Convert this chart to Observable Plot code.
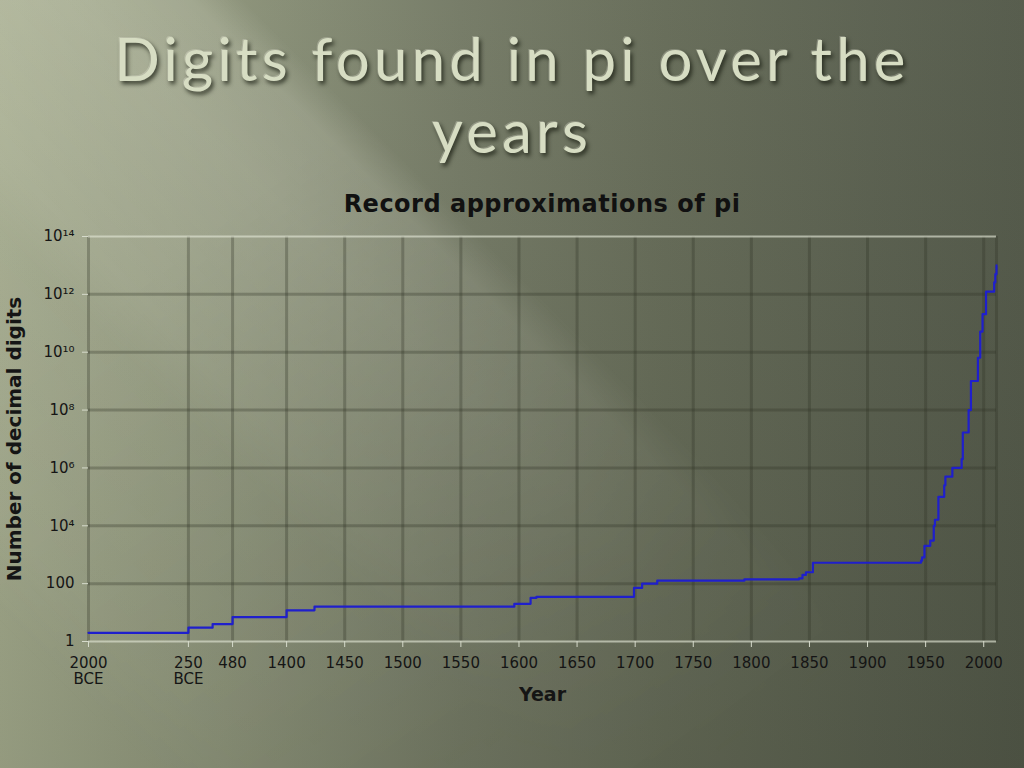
<!DOCTYPE html>
<html>
<head>
<meta charset="utf-8">
<script src="https://cdn.jsdelivr.net/npm/d3@7"></script>
<script src="https://cdn.jsdelivr.net/npm/@observablehq/plot@0.6"></script>
<style>
html, body { margin: 0; padding: 0; width: 1024px; height: 768px; overflow: hidden; }
body {
  position: relative;
  background:
    linear-gradient(to bottom, rgba(255,255,255,0.04) 0%, rgba(0,0,0,0.08) 100%),
    linear-gradient(to right, #a0a789 0%, #8a9177 22%, #727863 45%, #636955 65%, #585e4d 85%, #515747 100%);
}
body::before {
  content: ""; position: absolute; left: 0; top: 0; width: 1024px; height: 768px;
  background: linear-gradient(45deg, rgba(255,255,240,0) 8%, rgba(255,255,240,0.06) 14%, rgba(255,255,240,0.08) 30%, rgba(255,255,240,0.14) 34%, rgba(255,255,240,0.19) 47%, rgba(255,255,240,0.16) 53.5%, rgba(255,255,240,0) 56.5%);
  -webkit-mask-image: linear-gradient(to bottom right, #000 25%, rgba(0,0,0,0.15) 70%, transparent 85%);
  mask-image: linear-gradient(to bottom right, #000 25%, rgba(0,0,0,0.15) 70%, transparent 85%);
}
#title {
  position: absolute; left: 0; top: 22px; width: 1024px; text-align: center;
  font-family: Lato, "Open Sans", sans-serif; font-size: 60px; line-height: 72px; letter-spacing: 4.2px;
  color: #d7ddc3;
  text-shadow: 2px 3px 4px rgba(20,24,14,0.75), -1px -1px 0 rgba(255,255,240,0.25);
}
#chart-title {
  position: absolute; left: 542px; top: 190px; transform: translateX(-50%); white-space: nowrap;
  font-family: "DejaVu Sans", sans-serif; font-weight: bold; font-size: 24px; letter-spacing: 0.5px;
  color: #111;
}
#chart { position: absolute; left: 0; top: 220px; }
</style>
</head>
<body>
<div id="title">Digits found in pi over the<br>years</div>
<div id="chart-title">Record approximations of pi</div>
<div id="chart"></div>
<script>
// x-axis: broken year scale (tick years and their relative slot positions)
const tickYears = [-2000, -250, 480, 1400, 1450, 1500, 1550, 1600, 1650, 1700, 1750, 1800, 1850, 1900, 1950, 2000];
const tickLabels = ["2000\nBCE", "250\nBCE", "480", "1400", "1450", "1500", "1550", "1600", "1650", "1700", "1750", "1800", "1850", "1900", "1950", "2000"];
const tickSlots = [-3.41, -1.69, -0.93, 0, 1, 2, 3, 4, 5, 6, 7, 8, 9, 10, 11, 12];
const lastYear = 2011;

// y-axis ticks
const yTicks = [1, 100, 1e4, 1e6, 1e8, 1e10, 1e12, 1e14];
const yTickLabels = ["1", "100", "10\u2074", "10\u2076", "10\u2078", "10\u00B9\u2070", "10\u00B9\u00B2", "10\u00B9\u2074"];

// record approximations (year, number of decimal digits)
const years = [-2000, -250, 150, 480, 1400, 1424, 1596, 1610, 1615, 1699, 1706, 1719, 1794, 1841, 1844, 1847, 1853,
  1946, 1947, 1949, 1954, 1957, 1958, 1961, 1966, 1967, 1973, 1981, 1982, 1987, 1989, 1995, 1997, 1999, 2002, 2009, 2010, 2011];
const digits = [2, 3, 4, 7, 12, 16, 20, 32, 35, 71, 100, 127, 140, 152, 200, 248, 527,
  620, 808, 2037, 3089, 10021, 16167, 100265, 250000, 500000, 1001250, 2000000, 16777206, 1e8, 1011196691, 6442450938,
  51539600000, 206158430000, 1241100000000, 2576980370000, 5000000000000, 10000000000000];

const slot = d3.scaleLinear(tickYears, tickSlots);
const records = years.map((y, i) => ({year: y, digits: digits[i]}));

const gridColor = "#2e3326";
const plot = Plot.plot({
  width: 1024,
  height: 500,
  marginLeft: 88,
  marginRight: 28,
  marginTop: 16,
  marginBottom: 79,
  style: {background: "transparent", fontFamily: "DejaVu Sans, sans-serif", fontSize: "15px", color: "#151515", overflow: "visible"},
  x: {domain: [slot(-2000), slot(lastYear)]},
  y: {type: "log", domain: [1, 1e14]},
  marks: [
    Plot.gridX(tickSlots.concat([slot(lastYear)]), {stroke: gridColor, strokeOpacity: 0.3, strokeWidth: 3}),
    Plot.gridY(yTicks.slice(1, -1), {stroke: gridColor, strokeOpacity: 0.3, strokeWidth: 3}),
    Plot.ruleY([1, 1e14], {stroke: "#dfe3d2", strokeOpacity: 0.65, strokeWidth: 2}),
    Plot.axisX(tickSlots, {
      tickFormat: d => tickLabels[tickSlots.indexOf(d)],
      tickSize: 6, tickPadding: 8, stroke: "#d6dacb", lineHeight: 1.13,
      label: "Year", labelArrow: "none", labelAnchor: "center", labelOffset: 59
    }),
    Plot.axisY(yTicks, {
      tickFormat: d => yTickLabels[yTicks.indexOf(d)],
      tickSize: 6, tickPadding: 8, stroke: "#d6dacb",
      label: "Number of decimal digits", labelArrow: "none", labelAnchor: "center", labelOffset: 82
    }),
    Plot.line(records, {x: d => slot(d.year), y: "digits", curve: "step-after", stroke: "#1f1fcc", strokeWidth: 2.2})
  ]
});
document.getElementById("chart").appendChild(plot);

// bold axis titles (and strip any arrow glyphs)
for (const [name, size] of [["x-axis label", 19], ["y-axis label", 20]]) {
  d3.select(plot).selectAll(`[aria-label="${name}"]`).each(function() {
    const texts = this.tagName === "text" ? [this] : Array.from(this.querySelectorAll("text"));
    for (const t of texts) {
      t.setAttribute("font-weight", "bold");
      t.setAttribute("font-size", size);
      t.textContent = t.textContent.replace(/[\u2190-\u2193]/g, "").trim();
    }
  });
}
</script>
</body>
</html>
